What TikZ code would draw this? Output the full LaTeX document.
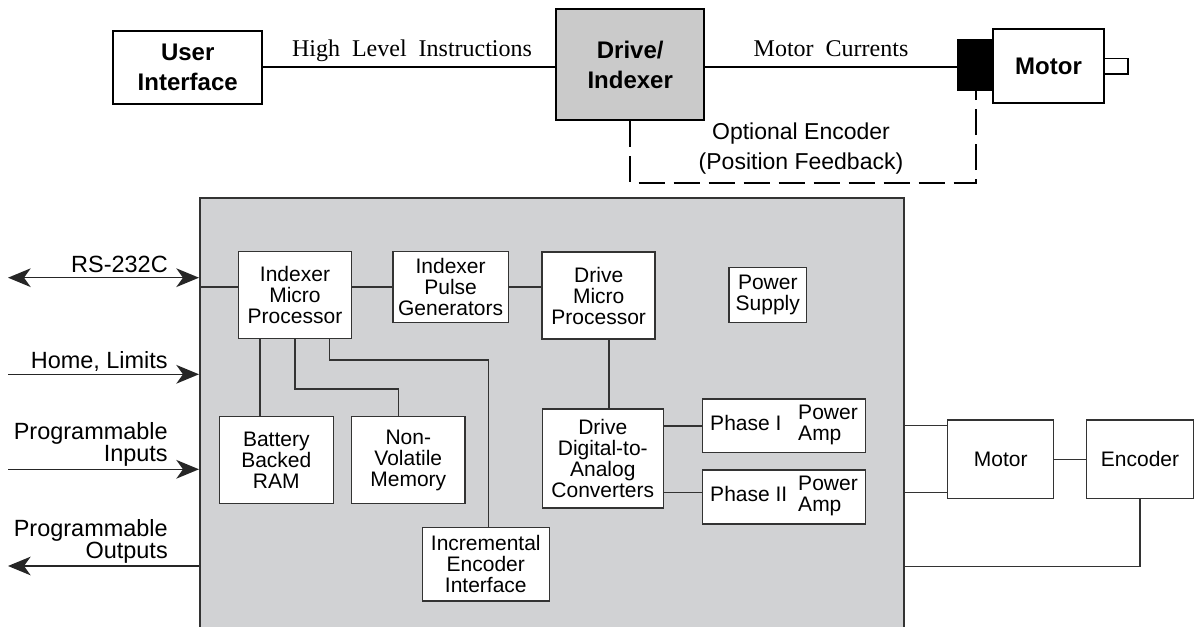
\documentclass[tikz,border=0pt]{standalone}
\usepackage{fontspec}
\setmainfont{Liberation Sans}
\newfontfamily\serifface{Liberation Serif}
\usepackage{tikz}
\usetikzlibrary{calc,arrows.meta}
\definecolor{ink}{HTML}{333333}
\definecolor{panel}{HTML}{D1D2D4}
\definecolor{drvgray}{HTML}{CACACA}
\newcommand\phaselbl[1]{\makebox[66pt][l]{#1}\begin{tabular}{@{}l@{}}Power\\Amp\end{tabular}}
\newcommand\widesp{\spaceskip 0.5em\relax}
\tikzset{
  sz/.style 2 args={minimum width=#1*0.75pt, minimum height=#2*0.75pt},
  top/.style={draw=black, line width=1.5pt},
  topbox/.style={top, fill=white, inner sep=1pt, align=center, font=\bfseries\fontsize{18}{22.5}\selectfont},
  fb/.style={draw=black, line width=1.5pt, dash pattern=on 19.5pt off 6.75pt},
  unit/.style={draw=ink, fill=white, line width=1.1pt, inner sep=1pt, align=center, font=\fontsize{15.75}{15.75}\selectfont},
  wire/.style={draw=ink, line width=1.1pt},
  sig/.style={draw=black!85, line width=1.2pt, >={Stealth[length=17pt, width=14pt, inset=5pt]}},
  lab/.style={text=black, inner sep=0pt, font=\fontsize{17.6}{16.3}\selectfont},
  tms/.style={font=\serifface\fontsize{18}{20}\selectfont},
  note/.style={font=\fontsize{17.25}{22.5}\selectfont},
}

\begin{document}
\begin{tikzpicture}[x=0.75pt, y=-0.75pt]
  \useasboundingbox (0,0) rectangle (1199,627);
  \clip (0,0) rectangle (1199,627);

  % overview: user interface -> drive/indexer -> motor
  \node[topbox, sz={148.7}{73.3}] (ui) at (187.7,67.3) {User\\Interface};
  \node[topbox, fill=drvgray, sz={148.3}{110.7}] (drv) at (630.2,64.7) {Drive/\\Indexer};
  \node[top, fill=black, inner sep=0pt, sz={35}{50}] (fbk) at (975.8,65) {};
  \node[topbox, sz={111}{74}] (mot) at (1048.5,66.3) {Motor};
  \node[top, fill=white, inner sep=0pt, line width=1.2pt, sz={24}{15.7}] (shaft) at (1116,66.2) {};

  \draw[top] (ui.east) -- (ui.east -| drv.west);
  \draw[top] (drv.east |- ui.east) -- (ui.east -| fbk.west);
  \node[tms, anchor=base] (hli) at (412,57) {\widesp High Level Instructions};
  \node[tms, anchor=base] (mcur) at (831,56.7) {\widesp Motor Currents};

  % optional feedback loop
  \draw[fb] (drv.south) -- ++(0,61.7) -| (fbk.south);
  \node[note, anchor=base] (oe1) at (801,140) {Optional Encoder};
  \node[note, anchor=base] (oe2) at (801,170) {(Position Feedback)};

  % controller panel
  \node[draw=ink, fill=panel, line width=1.5pt, inner sep=0pt, sz={704}{442}] (ctl) at (552,419) {};

  \node[unit, sz={113.4}{86.6}] (imp) at (295,295) {Indexer\\Micro\\Processor};
  \node[unit, sz={115.4}{71}] (ipg) at (450.6,287.2) {Indexer\\Pulse\\Generators};
  \node[unit, sz={113}{87}] (dmp) at (598.7,295.5) {Drive\\Micro\\Processor};
  \node[unit, sz={77.7}{55.4}] (psu) at (767.8,295) {Power\\Supply};
  \node[unit, sz={114}{86.6}] (ram) at (276.3,460) {Battery\\Backed\\RAM};
  \node[unit, sz={113.3}{86.6}] (nvm) at (408.3,460) {Non-\\Volatile\\Memory};
  \node[unit, sz={127}{73.7}] (iei) at (485.8,564.2) {Incremental\\Encoder\\Interface};
  \node[unit, sz={121}{99}] (dac) at (602.8,458.5) {Drive\\Digital-to-\\Analog\\Converters};
  \node[unit, sz={163.4}{53.7}] (amp1) at (784,425.8) {\phaselbl{Phase I}};
  \node[unit, sz={163.4}{54}] (amp2) at (784,497) {\phaselbl{Phase II}};
  \node[unit, sz={106}{78.7}] (mtr) at (1000.7,459.3) {Motor};
  \node[unit, sz={106.6}{78.7}] (enc) at (1140,459.3) {Encoder};

  % bus along the top row
  \draw[wire] (ipg.west -| ctl.west) -- (ipg.west -| imp.west);
  \draw[wire] (ipg.west -| imp.east) -- (ipg.west);
  \draw[wire] (ipg.east) -- (ipg.east -| dmp.west);

  % memory and encoder taps
  \coordinate (t1) at ($(imp.south)+(-35,0)$);
  \draw[wire] (t1) -- (t1 |- ram.north);
  \draw[wire] (imp.south) -- ++(0,50) -| ($(nvm.north)+(-10,0)$);
  \draw[wire] ($(imp.south)+(34.3,0)$) -- ++(0,21) -| ($(iei.north)+(2.5,0)$);

  % drive chain
  \coordinate (t2) at ($(dmp.south)+(10.3,0)$);
  \draw[wire] (t2) -- (t2 |- dac.north);
  \draw[wire] (amp1.west -| dac.east) -- (amp1.west);
  \coordinate (t3) at ($(amp2.west)+(0,-4.3)$);
  \draw[wire] (t3 -| dac.east) -- (t3);

  % motor and encoder outside
  \coordinate (m1) at ($(mtr.west)+(0,-33.6)$);
  \coordinate (m2) at ($(mtr.west)+(0,33.4)$);
  \draw[wire] (m1 -| ctl.east) -- (m1);
  \draw[wire] (m2 -| ctl.east) -- (m2);
  \draw[wire] (mtr.east) -- (enc.west);
  \coordinate (e1) at ($(enc.south)+(0,67)$);
  \draw[wire] (enc.south) -- (e1) -- (e1 -| ctl.east);

  % i/o signals on the left
  \coordinate (rs) at (8,277.7);
  \coordinate (hl) at (8,374.3);
  \coordinate (pin) at (8,469.3);
  \coordinate (pout) at (8,566);
  \draw[sig,<->] (rs) -- (rs -| ctl.west);
  \draw[sig,->] (hl) -- (hl -| ctl.west);
  \draw[sig,->] (pin) -- (pin -| ctl.west);
  \draw[sig,<-] (pout) -- (pout -| ctl.west);
  \node[lab, anchor=base east] (rslbl) at (168,272.7) {RS-232C};
  \node[lab, anchor=base east] (hllbl) at (168,368.3) {Home, Limits};
  \node[lab, anchor=base east, align=right] (pinlbl) at (168,461.7) {Programmable\\Inputs};
  \node[lab, anchor=base east, align=right] (poutlbl) at (168,558.3) {Programmable\\Outputs};
\end{tikzpicture}
\end{document}
